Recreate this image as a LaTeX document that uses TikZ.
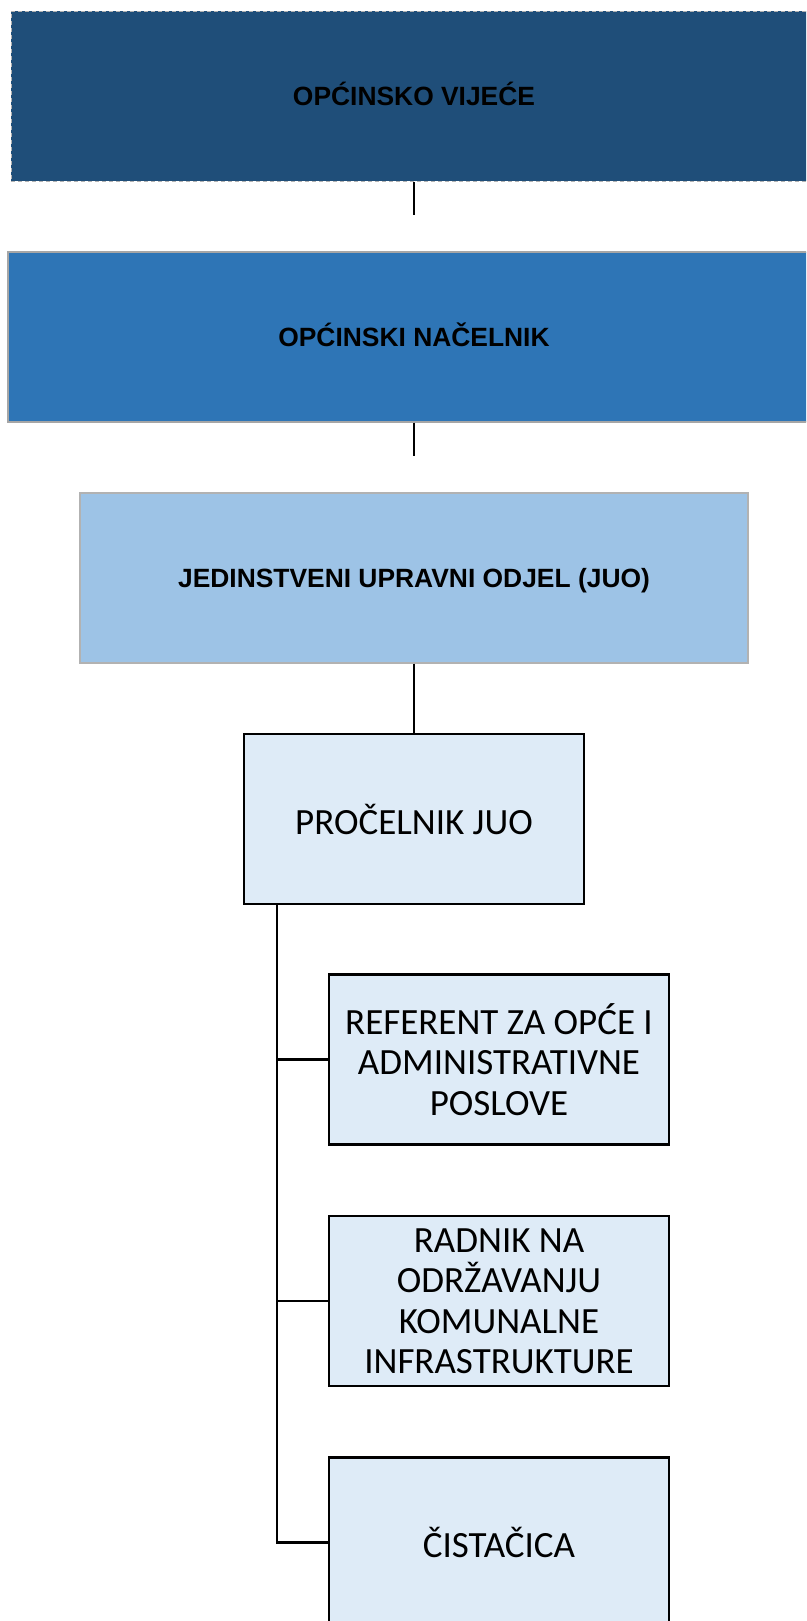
\documentclass[tikz,border=0pt]{standalone}
\usepackage{fontspec}
\setmainfont{Carlito}
\newfontfamily\arialfont{Liberation Sans}

\definecolor{tamnoplava}{HTML}{1F4E79}
\definecolor{srednjeplava}{HTML}{2E75B6}
\definecolor{svijetloplava}{HTML}{9DC3E6}
\definecolor{blijedoplava}{HTML}{DEEBF7}

\tikzset{
  vrh/.style={minimum height=170pt, inner sep=0pt, text=black,
    text height=19pt, text depth=0pt,
    font=\arialfont\bfseries\fontsize{26.4}{32}\selectfont},
  radno/.style={draw=black, fill=blijedoplava, line width=2.5pt,
    minimum width=340pt, minimum height=170pt, inner sep=0pt, align=center,
    font=\fontsize{37}{40.5}\selectfont},
  veza/.style={draw=black, line width=2.1pt}
}

\begin{document}
\begin{tikzpicture}[x=1pt,y=-1pt]
\path[use as bounding box, clip] (0,0) rectangle (806,1621);

\draw (414,96.5) node[vrh, fill=tamnoplava, draw=gray!60, dash pattern=on 4pt off 3pt,
  line width=1pt, minimum width=806pt](OV) {OPĆINSKO VIJEĆE};

\draw (414,337) node[vrh, fill=srednjeplava, draw=gray!70, line width=1.3pt,
  minimum width=812pt](ON) {OPĆINSKI NAČELNIK};

\draw (414,578) node[vrh, fill=svijetloplava, draw=gray!60, line width=1.3pt,
  minimum width=668pt](JU) {JEDINSTVENI UPRAVNI ODJEL (JUO)};

\draw (414,819) node[radno](PR) {PROČELNIK JUO};

\draw (499,1059.5) node[radno](RE) {REFERENT ZA OPĆE I\\ADMINISTRATIVNE\\POSLOVE};
\draw (499,1301) node[radno](RA) {RADNIK NA\\ODRŽAVANJU\\KOMUNALNE\\INFRASTRUKTURE};
\draw (499,1542.5) node[radno](CI) {ČISTAČICA};

\coordinate (S1) at (414,215);
\coordinate (S2) at (414,456);
\coordinate (DR) at ([xshift=34pt]PR.south west);

\draw[veza, line width=1.4pt] (OV) -- (S1);
\draw[veza, line width=1.4pt] (ON) -- (S2);
\draw[veza, line width=1.8pt] (JU) -- (PR);

\draw[veza, line width=2.4pt] (DR) |- (CI);
\draw[veza] (RE.west -| DR) -- (RE.west);
\draw[veza] (RA.west -| DR) -- (RA.west);

\end{tikzpicture}
\end{document}
